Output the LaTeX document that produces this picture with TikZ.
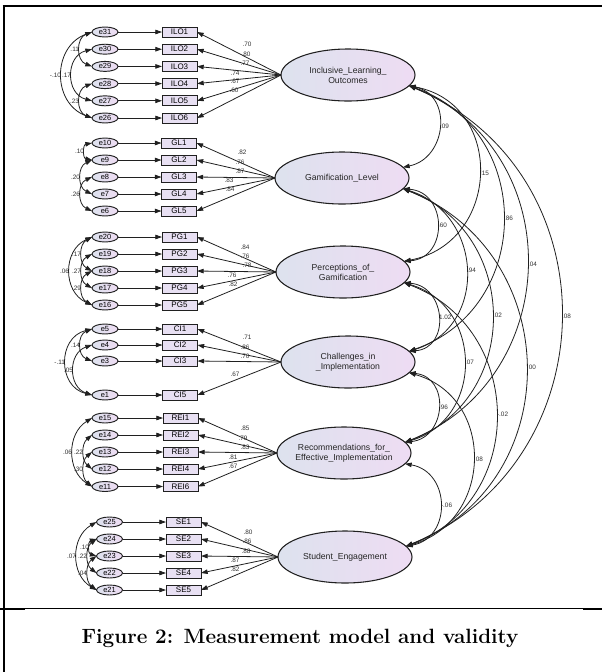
\documentclass[tikz,border=0pt]{standalone}
\usepackage{fontspec}
\setsansfont{Liberation Sans}
\usetikzlibrary{shapes.geometric,arrows.meta}
\definecolor{latL}{HTML}{DDE2EE}
\definecolor{latR}{HTML}{EEDCF3}
\definecolor{boxfill}{HTML}{E8E0F3}
\definecolor{ink}{HTML}{202020}
\begin{document}
\begin{tikzpicture}[x=0.75pt,y=-0.75pt,
  every node/.style={inner sep=0pt,outer sep=0pt},
  latent/.style={ellipse,draw=ink,line width=0.8pt,left color=latL,right color=latR,
    minimum width=100.5pt,minimum height=39pt,inner xsep=-4pt,align=center,
    font=\sffamily\fontsize{6.5}{7.4}\selectfont,text=black!85},
  indic/.style={rectangle,draw=ink,line width=0.7pt,fill=boxfill,
    minimum width=26.25pt,minimum height=7.5pt,font=\sffamily\fontsize{6}{6}\selectfont},
  err/.style={ellipse,draw=ink,line width=0.7pt,left color=latL,right color=latR,
    minimum width=19.5pt,minimum height=7.5pt,font=\sffamily\fontsize{5.6}{5.6}\selectfont},
  tipend/.style={-{Triangle[length=5pt,width=3.4pt]}},
  link/.style={draw=ink,line width=0.6pt,tipend},
  cov/.style={draw=ink,line width=0.6pt,{Triangle[length=5pt,width=3.4pt]}-{Triangle[length=5pt,width=3.4pt]}},
  est/.style={font=\sffamily\fontsize{4.8}{5}\selectfont,text=black!80,inner sep=0.8pt},
  rule/.style={draw=black,line width=1.5pt},
]
\useasboundingbox (0,0) rectangle (602,672);

% table rules around the figure cell
\draw[rule] (2.5,6) -- (602,6);
\draw[rule] (3.5,5) -- (3.5,672);
\draw[draw=black,line width=0.75pt] (0,608.5) -- (602,608.5);
\draw[rule] (0,608.5) -- (25,608.5);
\draw[rule] (583,608.5) -- (602,608.5);

\node[font=\bfseries\fontsize{15.5}{18}\selectfont] (cap) at (300,638)
  {Figure 2: Measurement model and validity};

% latent constructs
\node[latent] (ILO) at (348,75)  {Inclusive\_Learning\_\\Outcomes};
\node[latent] (GL)  at (342,178) {Gamification\_Level};
\node[latent] (PG)  at (343,272) {Perceptions\_of\_\\Gamification};
\node[latent] (CI)  at (348,362) {Challenges\_in\\\_Implementation};
\node[latent] (REI) at (344,453) {Recommendations\_for\_\\Effective\_Implementation};
\node[latent] (SE)  at (345,557) {Student\_Engagement};

% indicators with their error terms
\foreach \e/\b/\y in {e31/ILO1/32,e30/ILO2/49.2,e29/ILO3/66.4,e28/ILO4/83.6,e27/ILO5/100.8,e26/ILO6/118}{
  \node[err] (\e) at (105,\y) {\e};
  \node[indic] (\b) at (179.5,\y) {\b};
  \draw[link] (\e) -- (\b);
  \draw[link] (ILO.west) -- (\b.east);
}
\foreach \e/\b/\y in {e10/GL1/143,e9/GL2/160,e8/GL3/177,e7/GL4/194,e6/GL5/211}{
  \node[err] (\e) at (105,\y) {\e};
  \node[indic] (\b) at (179,\y) {\b};
  \draw[link] (\e) -- (\b);
  \draw[link] (GL.west) -- (\b.east);
}
\foreach \e/\b/\y in {e20/PG1/237,e19/PG2/254,e18/PG3/271,e17/PG4/288,e16/PG5/305}{
  \node[err] (\e) at (105,\y) {\e};
  \node[indic] (\b) at (179.5,\y) {\b};
  \draw[link] (\e) -- (\b);
  \draw[link] (PG.west) -- (\b.east);
}
\foreach \e/\b/\y in {e5/CI1/329,e4/CI2/345,e3/CI3/361,e1/CI5/395}{
  \node[err] (\e) at (105,\y) {\e};
  \node[indic] (\b) at (180,\y) {\b};
  \draw[link] (\e) -- (\b);
  \draw[link] (CI.west) -- (\b.east);
}
\foreach \e/\b/\y in {e15/REI1/418,e14/REI2/435,e13/REI3/452,e12/REI4/469,e11/REI6/486.5}{
  \node[err] (\e) at (105,\y) {\e};
  \node[indic] (\b) at (180.5,\y) {\b};
  \draw[link] (\e) -- (\b);
  \draw[link] (REI.west) -- (\b.east);
}
\foreach \e/\b/\y in {e25/SE1/522,e24/SE2/539,e23/SE3/556,e22/SE4/573,e21/SE5/590}{
  \node[err] (\e) at (109.5,\y) {\e};
  \node[indic] (\b) at (183.5,\y) {\b};
  \draw[link] (\e) -- (\b);
  \draw[link] (SE.west) -- (\b.east);
}

% standardized loadings
\foreach \t/\x/\y [count=\i] in {.70/247/44,.80/246/54,.77/245/63,.74/235/73,.67/235/81,.60/234/90,
  .82/242/152,.76/240/162,.87/240/171,.83/229/180,.84/230/189,
  .84/245/247,.76/245/256,.78/247/265,.76/232/275,.82/233/284,
  .71/247/337,.86/245/347,.70/245/356,.67/235/374,
  .85/245/428,.79/243/438,.83/245/447,.81/233/457,.67/233/466,
  .80/248/532,.86/247/541,.88/246/551,.87/235/560,.82/235/569}
  \node[est] (ld\i) at (\x,\y) {\t};

% correlations between constructs
\draw[cov] (ILO.-10) to[out=-11.6,in=11.6,distance=33.7pt] node[midway,est,right] {.09} (GL.10);
\draw[cov] (GL.-10)  to[out=-4.2,in=4.2,distance=33.6pt]   node[midway,est,right] {.60} (PG.10);
\draw[cov] (PG.-10)  to[out=-4.4,in=4.4,distance=31.6pt]   node[midway,est,right] {1.02} (CI.10);
\draw[cov] (CI.-10)  to[out=-6,in=6,distance=31.2pt]       node[midway,est,right] {.96} (REI.10);
\draw[cov] (REI.-10) to[out=-10,in=10,distance=35pt]       node[midway,est,right] {-.06} (SE.10);
\draw[cov] (ILO.-10) to[out=-10.7,in=10.7,distance=73.8pt] node[midway,est,right] {.15} (PG.10);
\draw[cov] (GL.-10)  to[out=-17,in=17,distance=62.8pt]     node[midway,est,right] {.94} (CI.10);
\draw[cov] (PG.-10)  to[out=-16.4,in=16.4,distance=62pt]   node[midway,est,right] {.07} (REI.10);
\draw[cov] (CI.-10)  to[out=-15.8,in=15.8,distance=68pt]   node[midway,est,right] {.08} (SE.10);
\draw[cov] (ILO.-10) to[out=-19.3,in=19.3,distance=99.6pt] node[midway,est,right] {.86} (CI.10);
\draw[cov] (GL.-10)  to[out=-20.3,in=20.3,distance=93.8pt] node[midway,est,right] {.02} (REI.10);
\draw[cov] (PG.-10)  to[out=-20.6,in=20.6,distance=97.2pt] node[midway,est,right] {-.02} (SE.10);
\draw[cov] (ILO.-10) to[out=-22,in=22,distance=129.4pt]    node[midway,est,right] {.04} (REI.10);
\draw[cov] (GL.-10)  to[out=-21.6,in=21.6,distance=130.6pt] node[midway,est,right] {.00} (SE.10);
\draw[cov] (ILO.-10) to[out=-22.6,in=22.6,distance=166.3pt] node[midway,est,right] {.08} (SE.10);

% correlated error terms
\draw[cov] (e31.west) to[out=200.2,in=159.8,distance=32pt]   node[midway,est,left] {-.10} (e26.west);
\draw[cov] (e30.west) to[out=194.4,in=165.6,distance=20.6pt] node[midway,est,left] {.17} (e27.west);
\draw[cov] (e31.west) to[out=200.2,in=159.8,distance=12.8pt] node[midway,est,left] {.11} (e29.west);
\draw[cov] (e28.west) to[out=200.2,in=159.8,distance=12.8pt] node[midway,est,left] {.23} (e26.west);

\draw[cov] (e10.west) to[out=191,in=169,distance=7.1pt]    node[midway,est,left] {.10} (e9.west);
\draw[cov] (e9.west)  to[out=204.2,in=155.8,distance=12pt] node[midway,est,left] {.20} (e7.west);
\draw[cov] (e8.west)  to[out=204.2,in=155.8,distance=12pt] node[midway,est,left] {.26} (e6.west);

\draw[cov] (e20.west) to[out=204.2,in=155.8,distance=24.1pt] node[midway,est,left] {.06} (e16.west);
\draw[cov] (e20.west) to[out=209,in=151,distance=11.4pt]     node[midway,est,left] {.17} (e18.west);
\draw[cov] (e19.west) to[out=209,in=151,distance=11.4pt]     node[midway,est,left] {.27} (e17.west);
\draw[cov] (e18.west) to[out=209,in=151,distance=11.4pt]     node[midway,est,left] {.29} (e16.west);

\draw[cov] (e5.west) to[out=201,in=159,distance=11.8pt]     node[midway,est,left] {.14} (e3.west);
\draw[cov] (e5.west) to[out=193.6,in=166.4,distance=26.7pt] node[midway,est,left] {-.11} (e1.west);
\draw[cov] (e4.west) to[out=198.5,in=161.5,distance=19pt]   node[midway,est,left] {.05} (e1.west);

\draw[cov] (e15.west) to[out=212,in=148,distance=22.4pt]     node[midway,est,left] {.06} (e11.west);
\draw[cov] (e14.west) to[out=219.6,in=140.4,distance=10.4pt] node[midway,est,left] {.22} (e12.west);
\draw[cov] (e13.west) to[out=219.6,in=140.4,distance=10.4pt] node[midway,est,left] {.30} (e11.west);

\draw[cov] (e25.west) to[out=210.3,in=149.7,distance=22.6pt] node[midway,est,left] {.07} (e21.west);
\draw[cov] (e24.west) to[out=216.9,in=143.1,distance=10.6pt] node[midway,est,left] {.22} (e22.west);
\draw[cov] (e24.west) to[out=195.2,in=164.8,distance=6.7pt]  node[midway,est,left] {.10} (e23.west);
\draw[cov] (e23.west) to[out=216.9,in=143.1,distance=10.6pt] node[midway,est,left] {.04} (e21.west);
\end{tikzpicture}
\end{document}
